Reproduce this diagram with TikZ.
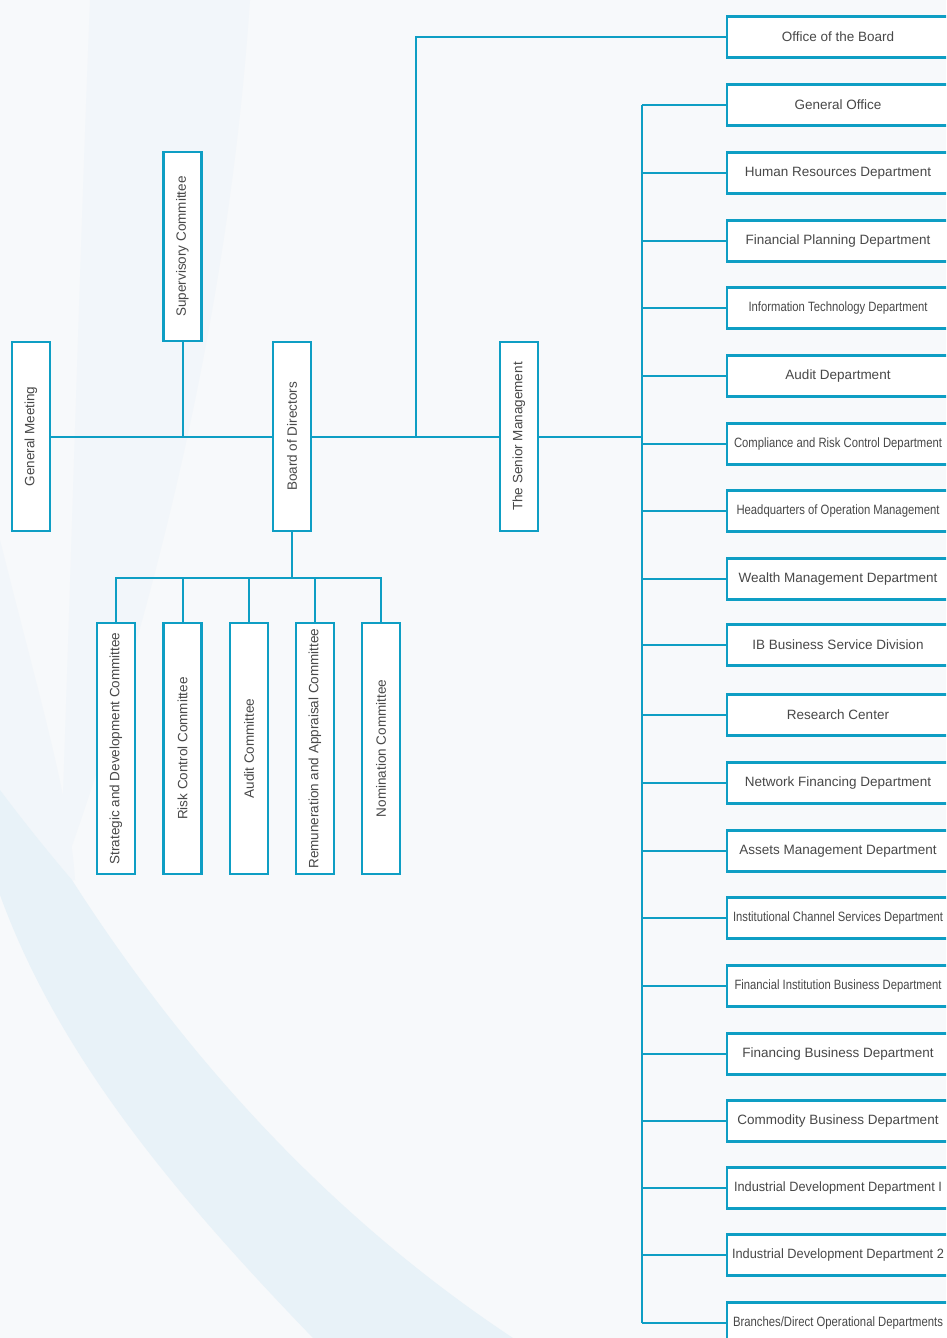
\documentclass[tikz,border=0pt]{standalone}
\usepackage{fontspec}
\setmainfont{Liberation Sans}
\usepackage{graphicx}
\definecolor{bgbase}{RGB}{247,249,251}
\definecolor{bgband}{RGB}{232,242,248}
\definecolor{bgfaint}{RGB}{242,246,250}
\definecolor{lineblue}{RGB}{14,158,196}
\definecolor{txt}{RGB}{72,72,72}
\newcommand\sq[2]{\resizebox{#1pt}{\height}{#2}}
\tikzset{
  box/.style={draw=lineblue, line width=2.2pt, fill=white, inner sep=0pt,
    text=txt, font=\fontsize{13.5}{14}\selectfont},
  dept/.style={box, minimum width=222, minimum height=41},
  vbox/.style={box, rotate=90, minimum height=38},
  conn/.style={draw=lineblue, line width=2pt}
}
\begin{document}
\begin{tikzpicture}[x=1pt,y=-1pt]
\useasboundingbox (0,0) rectangle (946,1338);
\clip (0,0) rectangle (946,1338);
% background
\fill[bgbase] (0,0) rectangle (946,1338);
\fill[bgfaint] (90,0) -- (250,0) .. controls (230,300) and (160,600) .. (60,880)
  .. controls (70,600) and (80,250) .. (90,0) -- cycle;
\fill[bgfaint] (0,540) .. controls (40,700) and (70,800) .. (75,880) -- (0,895) -- cycle;
\fill[bgband] (0,790) .. controls (30,830) and (55,860) .. (72,880)
  .. controls (200,1080) and (350,1230) .. (513,1338) -- (313,1338)
  .. controls (180,1200) and (60,1060) .. (0,895) -- cycle;

% left column nodes
\node[vbox, minimum width=189] (gm) at (31,436.5) {General Meeting};
\node[vbox, minimum width=189] (sc) at (182.5,246.5) {Supervisory Committee};
\node[vbox, minimum width=189] (bod) at (292,436.5) {Board of Directors};
\node[vbox, minimum width=189] (sm) at (519,436.5) {The Senior Management};

\node[vbox, minimum width=251] (c1) at (116,748.5) {Strategic and Development Committee};
\node[vbox, minimum width=251] (c2) at (182.5,748.5) {Risk Control Committee};
\node[vbox, minimum width=251] (c3) at (249,748.5) {Audit Committee};
\node[vbox, minimum width=251] (c4) at (315,748.5) {Remuneration and Appraisal Committee};
\node[vbox, minimum width=251] (c5) at (381,748.5) {Nomination Committee};

% right column
\node[dept] (ob) at (838,37) {Office of the Board};
\node[dept] (d1) at (838,105) {General Office};
\node[dept] (d2) at (838,173) {Human Resources Department};
\node[dept] (d3) at (838,241) {Financial Planning Department};
\node[dept] (d4) at (838,308) {\sq{179}{Information Technology Department}};
\node[dept] (d5) at (838,376) {Audit Department};
\node[dept] (d6) at (838,444) {\sq{208}{Compliance and Risk Control Department}};
\node[dept] (d7) at (838,511) {\sq{203}{Headquarters of Operation Management}};
\node[dept] (d8) at (838,579) {Wealth Management Department};
\node[dept] (d9) at (838,645) {IB Business Service Division};
\node[dept] (d10) at (838,715) {Research Center};
\node[dept] (d11) at (838,783) {Network Financing Department};
\node[dept] (d12) at (838,851) {Assets Management Department};
\node[dept] (d13) at (838,918) {\sq{210}{Institutional Channel Services Department}};
\node[dept] (d14) at (838,986) {\sq{207}{Financial Institution Business Department}};
\node[dept] (d15) at (838,1054) {Financing Business Department};
\node[dept] (d16) at (838,1121) {Commodity Business Department};
\node[dept] (d17) at (838,1188) {\sq{208}{Industrial Development Department I}};
\node[dept] (d18) at (838,1255) {\sq{212}{Industrial Development Department 2}};
\node[dept] (d19) at (838,1323) {\sq{210}{Branches/Direct Operational Departments}};

% connectors: top row
\coordinate (jb) at (416,436.5);
\coordinate (cb) at (292,578);
\coordinate (tt) at (642,105);
\coordinate (tb) at (642,1323);
\draw[conn] (gm.south) -- (bod.north);
\draw[conn] (sc.west) -- (sc.west |- gm.south);
\draw[conn] (bod.south) -- (sm.north);
\draw[conn] (jb) |- (ob.west);
\draw[conn] (sm.south) -- (sm.south -| tt);
% committees
\draw[conn] (bod.west) -- (cb);
\draw[conn] (c1.east) -- (c1.east |- cb) -- (c5.east |- cb) -- (c5.east);
\foreach \c in {c2,c3,c4} \draw[conn] (\c.east) -- (\c.east |- cb);
% departments
\draw[conn] (tt) -- (tb);
\foreach \d in {d1,d2,d3,d4,d5,d6,d7,d8,d9,d10,d11,d12,d13,d14,d15,d16,d17,d18,d19}
  \draw[conn] (\d.west) -- (\d.west -| tt);
\end{tikzpicture}
\end{document}
